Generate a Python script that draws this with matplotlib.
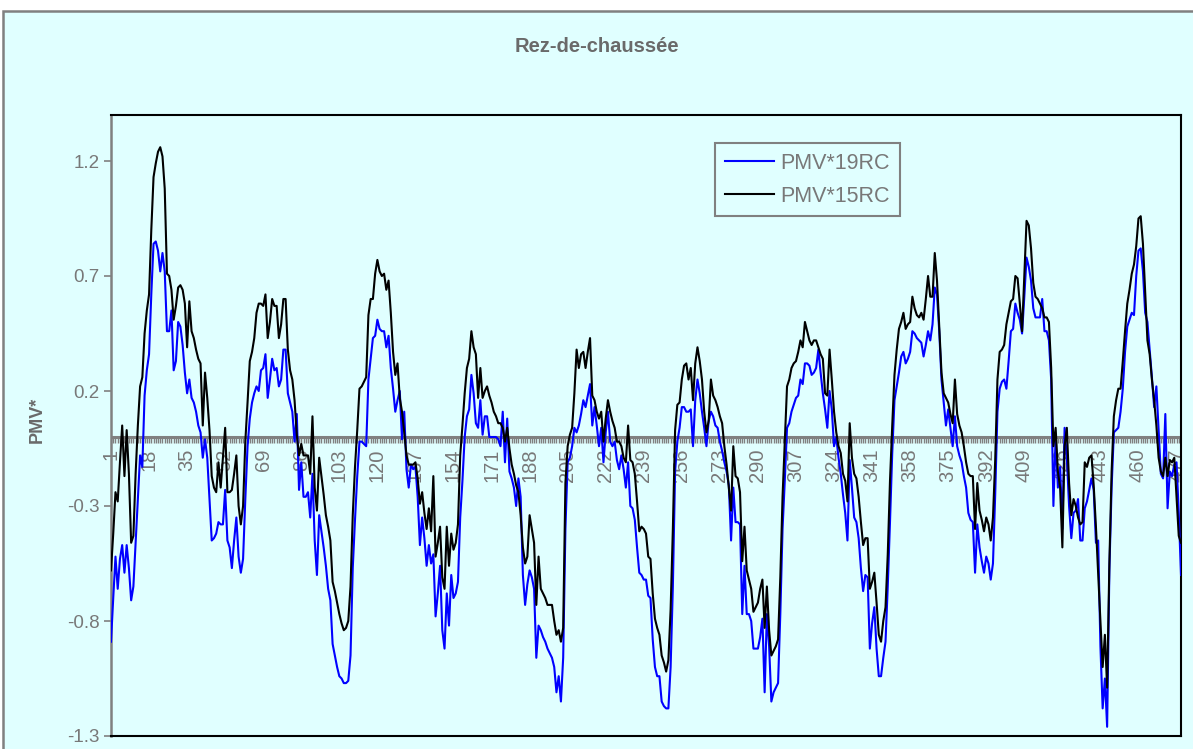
import numpy as np
import matplotlib
matplotlib.use('Agg')
import matplotlib.pyplot as plt
from matplotlib.patches import Rectangle

# valeurs (une par pas de temps)
pmv19 = [
    -0.89, -0.70, -0.52, -0.66, -0.53, -0.47, -0.59, -0.47, -0.57, -0.71,
    -0.65, -0.46, -0.27, -0.08, -0.13, 0.18, 0.29, 0.36, 0.62, 0.84,
    0.85, 0.81, 0.72, 0.80, 0.72, 0.46, 0.46, 0.55, 0.29, 0.33,
    0.50, 0.48, 0.40, 0.28, 0.19, 0.25, 0.17, 0.15, 0.11, 0.05,
    0.02, -0.09, -0.01, -0.09, -0.27, -0.45, -0.44, -0.42, -0.37, -0.38,
    -0.38, -0.23, -0.45, -0.48, -0.57, -0.45, -0.35, -0.52, -0.59, -0.53,
    -0.27, -0.04, 0.08, 0.15, 0.19, 0.22, 0.20, 0.29, 0.30, 0.36,
    0.17, 0.25, 0.34, 0.29, 0.30, 0.22, 0.25, 0.38, 0.38, 0.19,
    0.15, 0.11, -0.02, 0.10, -0.23, -0.11, -0.26, -0.26, -0.24, -0.35,
    -0.16, -0.45, -0.60, -0.34, -0.41, -0.48, -0.56, -0.66, -0.71, -0.90,
    -0.95, -1.00, -1.04, -1.05, -1.07, -1.07, -1.06, -0.95, -0.57, -0.36,
    -0.17, -0.02, -0.02, -0.03, -0.04, 0.25, 0.34, 0.43, 0.44, 0.51,
    0.47, 0.46, 0.46, 0.39, 0.44, 0.30, 0.21, 0.11, 0.16, 0.20,
    -0.01, 0.11, -0.14, -0.22, -0.12, -0.14, -0.13, -0.26, -0.47, -0.35,
    -0.44, -0.56, -0.47, -0.55, -0.51, -0.78, -0.68, -0.56, -0.84, -0.92,
    -0.68, -0.82, -0.60, -0.70, -0.68, -0.63, -0.35, -0.19, 0.00, 0.09,
    0.12, 0.27, 0.19, 0.06, 0.04, 0.16, 0.01, 0.09, 0.09, 0.00,
    0.00, 0.00, 0.00, -0.01, -0.04, 0.11, -0.11, 0.08, -0.15, -0.18,
    -0.22, -0.30, -0.18, -0.26, -0.60, -0.73, -0.64, -0.58, -0.61, -0.66,
    -0.96, -0.82, -0.84, -0.87, -0.89, -0.92, -0.94, -0.96, -1.00, -1.11,
    -1.04, -1.15, -0.96, -0.40, -0.11, -0.09, -0.04, 0.04, 0.02, 0.05,
    0.10, 0.16, 0.13, 0.18, 0.23, 0.05, 0.13, 0.05, -0.04, 0.04,
    -0.11, 0.02, 0.11, -0.02, -0.04, -0.02, -0.10, -0.14, -0.08, -0.14,
    -0.22, -0.11, -0.30, -0.31, -0.36, -0.48, -0.59, -0.60, -0.62, -0.62,
    -0.69, -0.70, -0.88, -1.00, -1.04, -1.04, -1.15, -1.17, -1.18, -1.18,
    -1.00, -0.65, -0.15, -0.02, 0.04, 0.13, 0.13, 0.11, 0.11, 0.12,
    -0.04, 0.16, 0.25, 0.19, 0.11, 0.04, -0.04, 0.07, 0.11, 0.09,
    0.05, 0.04, -0.02, -0.06, -0.11, -0.15, -0.21, -0.45, -0.22, -0.37,
    -0.37, -0.38, -0.77, -0.56, -0.77, -0.77, -0.80, -0.92, -0.92, -0.92,
    -0.87, -0.79, -1.11, -0.77, -0.91, -1.15, -1.11, -1.09, -1.07, -0.77,
    -0.40, -0.19, 0.04, 0.06, 0.11, 0.14, 0.17, 0.18, 0.25, 0.23,
    0.32, 0.32, 0.31, 0.27, 0.28, 0.30, 0.38, 0.28, 0.19, 0.12,
    0.04, 0.20, 0.12, -0.04, 0.00, -0.09, -0.16, -0.25, -0.33, -0.45,
    -0.10, -0.22, -0.35, -0.37, -0.44, -0.57, -0.67, -0.60, -0.61, -0.92,
    -0.81, -0.74, -0.92, -1.04, -1.04, -0.96, -0.89, -0.65, -0.37, -0.07,
    0.16, 0.22, 0.28, 0.35, 0.37, 0.32, 0.34, 0.37, 0.46, 0.45,
    0.43, 0.42, 0.41, 0.35, 0.40, 0.46, 0.42, 0.49, 0.65, 0.62,
    0.46, 0.25, 0.15, 0.05, 0.12, 0.04, -0.04, 0.09, -0.04, -0.08,
    -0.11, -0.17, -0.22, -0.33, -0.36, -0.37, -0.59, -0.38, -0.48, -0.54,
    -0.59, -0.52, -0.55, -0.62, -0.55, -0.25, 0.11, 0.21, 0.24, 0.25,
    0.21, 0.33, 0.46, 0.47, 0.58, 0.54, 0.51, 0.45, 0.61, 0.78,
    0.74, 0.68, 0.56, 0.52, 0.52, 0.52, 0.60, 0.46, 0.46, 0.42,
    0.25, -0.30, 0.00, -0.22, -0.13, -0.40, 0.04, -0.09, -0.30, -0.44,
    -0.33, -0.32, -0.27, -0.45, -0.45, -0.31, -0.28, -0.23, -0.18, -0.23,
    -0.46, -0.45, -0.91, -1.18, -1.05, -1.26, -0.58, -0.22, 0.02, 0.03,
    0.04, 0.11, 0.21, 0.37, 0.48, 0.51, 0.54, 0.53, 0.70, 0.81,
    0.82, 0.72, 0.54, 0.50, 0.38, 0.26, 0.13, 0.22, 0.03, -0.16,
    -0.18, 0.10, -0.31, -0.15, -0.17, -0.12, -0.11, -0.33, -0.60,
]

pmv15 = [
    -0.58, -0.42, -0.24, -0.28, -0.11, 0.05, -0.17, 0.03, -0.16, -0.46,
    -0.43, -0.16, 0.05, 0.22, 0.26, 0.45, 0.55, 0.62, 0.90, 1.13,
    1.19, 1.24, 1.26, 1.22, 1.08, 0.71, 0.70, 0.64, 0.51, 0.57,
    0.65, 0.66, 0.64, 0.58, 0.39, 0.59, 0.46, 0.43, 0.38, 0.34,
    0.32, 0.05, 0.28, 0.17, 0.03, -0.17, -0.22, -0.24, -0.11, -0.22,
    -0.09, 0.04, -0.24, -0.24, -0.23, -0.16, -0.08, -0.30, -0.38, -0.30,
    -0.02, 0.15, 0.33, 0.37, 0.43, 0.54, 0.58, 0.58, 0.57, 0.62,
    0.43, 0.50, 0.60, 0.57, 0.57, 0.43, 0.49, 0.60, 0.60, 0.38,
    0.29, 0.25, 0.16, 0.01, -0.08, -0.03, -0.08, -0.08, -0.08, -0.16,
    0.09, -0.22, -0.32, -0.09, -0.17, -0.25, -0.34, -0.39, -0.45, -0.63,
    -0.67, -0.72, -0.77, -0.81, -0.84, -0.83, -0.80, -0.65, -0.34, -0.13,
    0.03, 0.21, 0.22, 0.24, 0.26, 0.53, 0.60, 0.60, 0.71, 0.77,
    0.72, 0.70, 0.71, 0.64, 0.68, 0.54, 0.37, 0.27, 0.32, 0.17,
    0.11, 0.02, -0.08, -0.12, -0.12, -0.12, -0.11, -0.18, -0.29, -0.24,
    -0.33, -0.40, -0.31, -0.41, -0.17, -0.52, -0.46, -0.39, -0.61, -0.66,
    -0.39, -0.56, -0.42, -0.49, -0.46, -0.38, -0.08, 0.05, 0.19, 0.30,
    0.34, 0.46, 0.39, 0.36, 0.17, 0.30, 0.17, 0.20, 0.22, 0.18,
    0.15, 0.11, 0.09, 0.06, 0.06, 0.04, -0.02, 0.04, -0.05, -0.12,
    -0.16, -0.21, -0.24, -0.34, -0.48, -0.55, -0.52, -0.34, -0.40, -0.46,
    -0.73, -0.52, -0.66, -0.68, -0.70, -0.73, -0.73, -0.73, -0.80, -0.86,
    -0.84, -0.89, -0.83, -0.20, -0.04, 0.01, 0.04, 0.19, 0.38, 0.30,
    0.36, 0.37, 0.30, 0.37, 0.43, 0.18, 0.16, 0.11, 0.08, 0.11,
    -0.02, 0.08, 0.16, 0.11, 0.07, 0.04, -0.02, -0.02, -0.04, -0.09,
    -0.11, 0.05, -0.10, -0.11, -0.16, -0.28, -0.41, -0.39, -0.40, -0.42,
    -0.52, -0.53, -0.68, -0.79, -0.83, -0.86, -0.95, -0.98, -1.02, -0.97,
    -0.75, -0.40, 0.03, 0.14, 0.15, 0.25, 0.31, 0.32, 0.25, 0.30,
    0.16, 0.32, 0.39, 0.33, 0.25, 0.11, 0.02, 0.07, 0.25, 0.18,
    0.16, 0.13, 0.09, 0.06, -0.04, -0.12, -0.22, -0.32, -0.04, -0.17,
    -0.18, -0.24, -0.54, -0.39, -0.58, -0.62, -0.66, -0.76, -0.74, -0.72,
    -0.66, -0.62, -0.83, -0.65, -0.84, -0.95, -0.93, -0.91, -0.88, -0.61,
    -0.26, -0.02, 0.22, 0.25, 0.30, 0.32, 0.33, 0.37, 0.42, 0.39,
    0.50, 0.46, 0.42, 0.40, 0.42, 0.42, 0.39, 0.36, 0.34, 0.19,
    0.18, 0.38, 0.25, 0.11, 0.02, -0.04, -0.07, -0.16, -0.19, -0.28,
    0.06, -0.09, -0.16, -0.18, -0.26, -0.37, -0.47, -0.44, -0.44, -0.66,
    -0.63, -0.59, -0.72, -0.86, -0.89, -0.80, -0.74, -0.51, -0.19, 0.05,
    0.27, 0.38, 0.47, 0.50, 0.54, 0.47, 0.49, 0.50, 0.61, 0.56,
    0.53, 0.52, 0.54, 0.51, 0.60, 0.70, 0.61, 0.61, 0.80, 0.68,
    0.48, 0.28, 0.19, 0.17, 0.15, 0.10, 0.06, 0.25, 0.10, 0.05,
    0.02, -0.04, -0.11, -0.16, -0.17, -0.17, -0.40, -0.20, -0.32, -0.36,
    -0.41, -0.35, -0.38, -0.45, -0.35, -0.10, 0.25, 0.37, 0.38, 0.40,
    0.49, 0.54, 0.59, 0.60, 0.70, 0.69, 0.58, 0.46, 0.70, 0.94,
    0.92, 0.82, 0.67, 0.61, 0.60, 0.58, 0.56, 0.52, 0.52, 0.50,
    0.30, -0.04, 0.04, -0.15, -0.22, -0.48, -0.04, 0.04, -0.20, -0.34,
    -0.27, -0.30, -0.35, -0.38, -0.37, -0.11, -0.13, -0.09, -0.08, -0.21,
    -0.39, -0.60, -0.80, -1.00, -0.86, -1.09, -0.55, -0.15, 0.09, 0.16,
    0.21, 0.21, 0.33, 0.46, 0.58, 0.64, 0.71, 0.75, 0.83, 0.95,
    0.96, 0.84, 0.63, 0.42, 0.36, 0.25, 0.16, 0.05, -0.09, -0.15,
    -0.17, -0.09, -0.17, -0.10, -0.11, -0.09, -0.26, -0.43, -0.46,
]

categories = np.arange(1, len(pmv19) + 1)
label_cats = categories[::17]
yticks = [-1.3, -0.8, -0.3, 0.2, 0.7, 1.2]

bg = '#E0FFFF'
grey = '#808080'
txt = '#787878'

plt.rcParams['font.family'] = ['Liberation Sans', 'DejaVu Sans']

W, H = 1193, 749
fig = plt.figure(figsize=(W / 100, H / 100), dpi=100)
fig.patch.set_facecolor('white')

# cadre du graphique (zone cyan avec bordure grise)
fig.add_artist(Rectangle((3 / W, -0.05), 1.1, 1.05 - 11 / H,
                         transform=fig.transFigure, facecolor=bg,
                         edgecolor=grey, lw=1.8, zorder=-1))

ax = fig.add_axes([111 / W, 13 / H, 1070 / W, 621 / H])
ax.set_facecolor(bg)

ax.plot(categories, pmv19, color='#0000FF', lw=1.5, label='PMV*19RC', zorder=3)
ax.plot(categories, pmv15, color='black', lw=1.5, label='PMV*15RC', zorder=4)

ax.set_xlim(1, len(categories))
ax.set_ylim(-1.3, 1.4)

# axe des catégories à y = 0
ax.axhline(0, color=grey, lw=2.2, zorder=2)
ax.vlines(categories, -0.026, 0, color=grey, lw=1.0, zorder=2)
ax.set_xticks([])
for c in label_cats:
    ax.text(c, -0.05, str(c), rotation=90, ha='center', va='top',
            fontsize=14.5, color=txt, zorder=1)

ax.set_yticks(yticks)
ax.set_yticklabels([f'{v:.1f}' for v in yticks])
ax.tick_params(axis='y', colors=grey, labelcolor=txt, labelsize=13.5,
               length=5, width=1.2, direction='out', pad=3)

for s in ['top', 'right', 'bottom']:
    ax.spines[s].set_color('black')
    ax.spines[s].set_linewidth(1.5)
ax.spines['left'].set_color(grey)
ax.spines['left'].set_linewidth(1.8)

leg = ax.legend(loc='upper left', bbox_to_anchor=(715 / W, 1 - 143 / H),
                bbox_transform=fig.transFigure, frameon=True, fancybox=False,
                fontsize=15.5, handlelength=2.3, borderpad=0.45,
                labelspacing=0.55, handletextpad=0.3, borderaxespad=0)
leg.get_frame().set_edgecolor(grey)
leg.get_frame().set_facecolor(bg)
leg.get_frame().set_linewidth(1.5)
leg.get_frame().set_alpha(1)
for t in leg.get_texts():
    t.set_color(txt)

fig.text(597 / W, 1 - 47 / H, 'Rez-de-chaussée', ha='center', va='center',
         fontsize=14.5, fontweight='bold', color='#6a6a6a')
fig.text(37 / W, 1 - 420 / H, 'PMV*', rotation=90, ha='center', va='center',
         fontsize=13, fontweight='bold', color='#6a6a6a')

fig.savefig('out.png', dpi=100, facecolor=fig.get_facecolor())
